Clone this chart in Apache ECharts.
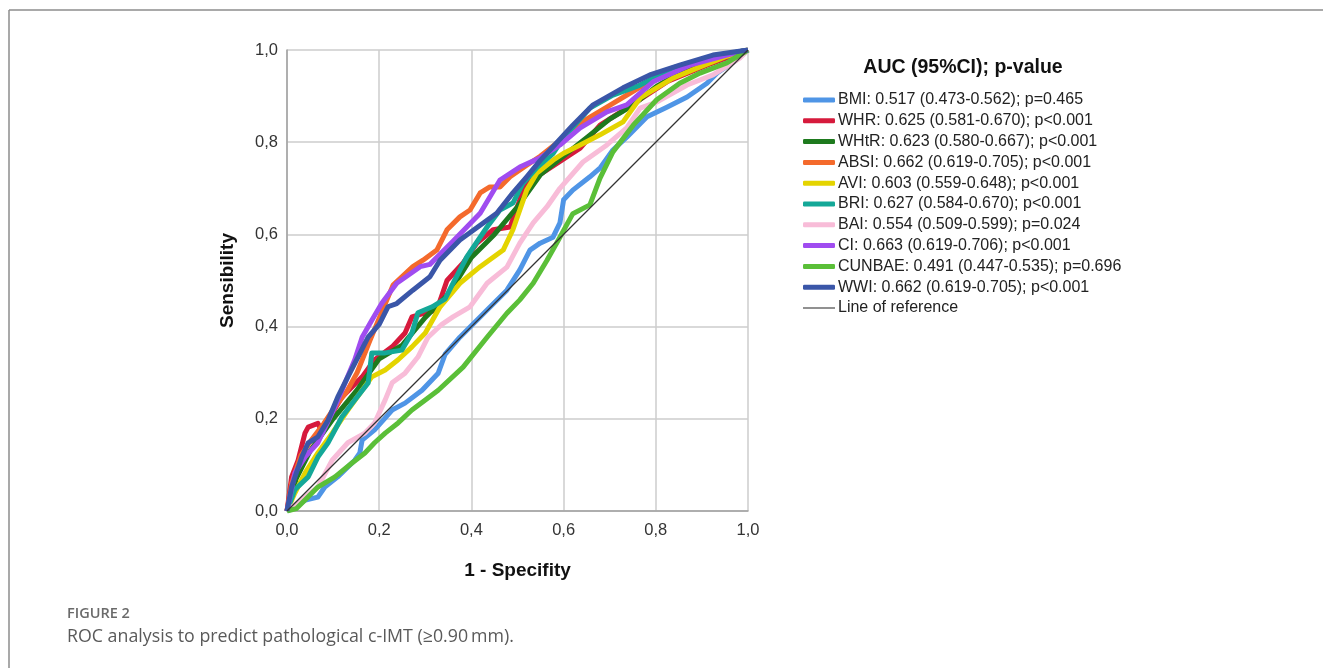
<!DOCTYPE html>
<html>
<head>
<meta charset="utf-8">
<script src="https://cdn.jsdelivr.net/npm/echarts@6/dist/echarts.min.js"></script>
<style>
html,body{margin:0;padding:0;background:#fff;}
#chart{width:1323px;height:668px;}
</style>
</head>
<body>
<div id="chart"></div>
<script>
// ---- data (fpr, tpr) ----
const seriesNames = ['BMI','WHR','WHtR','ABSI','AVI','BRI','BAI','CI','CUNBAE','WWI'];
const legendLabels = [
  'BMI: 0.517 (0.473-0.562); p=0.465',
  'WHR: 0.625 (0.581-0.670); p<0.001',
  'WHtR: 0.623 (0.580-0.667); p<0.001',
  'ABSI: 0.662 (0.619-0.705); p<0.001',
  'AVI: 0.603 (0.559-0.648); p<0.001',
  'BRI: 0.627 (0.584-0.670); p<0.001',
  'BAI: 0.554 (0.509-0.599); p=0.024',
  'CI: 0.663 (0.619-0.706); p<0.001',
  'CUNBAE: 0.491 (0.447-0.535); p=0.696',
  'WWI: 0.662 (0.619-0.705); p<0.001'
];
const refName = 'Line of reference';
const xTickLabels = ['0,0','0,2','0,4','0,6','0,8','1,0'];
const yTickLabels = ['0,0','0,2','0,4','0,6','0,8','1,0'];

const BMI = [[0,0],[0.02,0.01],[0.04,0.024],[0.067,0.03],[0.082,0.052],[0.11,0.074],[0.147,0.11],[0.158,0.126],[0.163,0.154],[0.19,0.176],[0.228,0.219],[0.256,0.234],[0.293,0.262],[0.328,0.299],[0.343,0.34],[0.375,0.377],[0.434,0.436],[0.477,0.479],[0.505,0.523],[0.527,0.566],[0.549,0.581],[0.577,0.594],[0.592,0.625],[0.6,0.675],[0.62,0.696],[0.657,0.725],[0.68,0.745],[0.707,0.783],[0.737,0.811],[0.781,0.855],[0.824,0.876],[0.868,0.898],[0.911,0.928],[0.933,0.95],[0.97,0.975],[1,1]];
const WHR = [[0,0],[0.01,0.074],[0.024,0.11],[0.039,0.169],[0.046,0.182],[0.067,0.19],[0.076,0.172],[0.098,0.212],[0.119,0.247],[0.141,0.269],[0.163,0.291],[0.19,0.328],[0.228,0.356],[0.256,0.386],[0.271,0.421],[0.3,0.43],[0.325,0.436],[0.347,0.5],[0.382,0.538],[0.412,0.581],[0.447,0.61],[0.484,0.616],[0.505,0.675],[0.52,0.711],[0.564,0.74],[0.607,0.768],[0.636,0.787],[0.679,0.837],[0.737,0.874],[0.824,0.931],[0.911,0.967],[0.96,0.985],[1,1]];
const WHtR = [[0,0],[0.02,0.07],[0.05,0.13],[0.1,0.2],[0.15,0.26],[0.2,0.33],[0.25,0.36],[0.3,0.42],[0.35,0.47],[0.4,0.55],[0.45,0.6],[0.5,0.66],[0.55,0.73],[0.6,0.77],[0.65,0.81],[0.7,0.85],[0.75,0.88],[0.8,0.92],[0.85,0.95],[0.9,0.97],[0.95,0.99],[1,1]];
const ABSI = [[0,0],[0.01,0.06],[0.03,0.12],[0.05,0.15],[0.08,0.19],[0.1,0.22],[0.13,0.26],[0.152,0.3],[0.18,0.37],[0.205,0.43],[0.23,0.49],[0.273,0.53],[0.295,0.544],[0.325,0.566],[0.347,0.61],[0.375,0.638],[0.397,0.653],[0.419,0.69],[0.44,0.703],[0.462,0.703],[0.484,0.725],[0.52,0.75],[0.55,0.77],[0.6,0.81],[0.65,0.85],[0.7,0.88],[0.75,0.91],[0.8,0.94],[0.85,0.96],[0.9,0.975],[0.95,0.99],[1,1]];
const AVI = [[0,0],[0.017,0.039],[0.039,0.082],[0.067,0.126],[0.098,0.169],[0.132,0.219],[0.163,0.262],[0.184,0.291],[0.213,0.306],[0.241,0.328],[0.271,0.356],[0.3,0.386],[0.332,0.443],[0.375,0.494],[0.419,0.53],[0.469,0.566],[0.49,0.61],[0.52,0.696],[0.542,0.733],[0.577,0.761],[0.6,0.776],[0.636,0.794],[0.679,0.816],[0.729,0.844],[0.766,0.896],[0.837,0.939],[0.9,0.965],[0.95,0.985],[1,1]];
const BRI = [[0,0],[0.017,0.046],[0.046,0.074],[0.067,0.117],[0.089,0.148],[0.119,0.204],[0.147,0.241],[0.176,0.278],[0.184,0.343],[0.213,0.343],[0.249,0.349],[0.271,0.386],[0.284,0.43],[0.315,0.443],[0.343,0.46],[0.36,0.494],[0.39,0.551],[0.434,0.616],[0.462,0.653],[0.49,0.668],[0.512,0.711],[0.542,0.745],[0.577,0.775],[0.6,0.81],[0.657,0.874],[0.707,0.902],[0.766,0.924],[0.837,0.961],[0.911,0.983],[1,1]];
const BAI = [[0,0],[0.039,0.03],[0.067,0.052],[0.098,0.11],[0.132,0.148],[0.169,0.169],[0.19,0.191],[0.213,0.241],[0.228,0.278],[0.256,0.299],[0.284,0.334],[0.306,0.377],[0.336,0.405],[0.36,0.421],[0.397,0.443],[0.434,0.494],[0.477,0.529],[0.505,0.581],[0.534,0.625],[0.564,0.66],[0.592,0.7],[0.642,0.757],[0.694,0.794],[0.737,0.831],[0.766,0.874],[0.802,0.887],[0.868,0.924],[0.924,0.946],[0.983,0.983],[1,1]];
const CI = [[0,0],[0.017,0.082],[0.039,0.117],[0.067,0.148],[0.104,0.226],[0.126,0.278],[0.147,0.328],[0.163,0.377],[0.184,0.414],[0.206,0.451],[0.238,0.494],[0.289,0.53],[0.31,0.535],[0.36,0.585],[0.419,0.646],[0.462,0.718],[0.505,0.746],[0.549,0.766],[0.592,0.794],[0.636,0.831],[0.694,0.866],[0.737,0.881],[0.794,0.931],[0.874,0.967],[0.954,0.989],[1,1]];
const CUNBAE = [[0,0],[0.02,0.005],[0.039,0.024],[0.067,0.052],[0.104,0.074],[0.141,0.104],[0.169,0.126],[0.19,0.148],[0.213,0.169],[0.241,0.191],[0.271,0.219],[0.3,0.241],[0.328,0.262],[0.382,0.312],[0.434,0.377],[0.477,0.429],[0.505,0.458],[0.534,0.494],[0.564,0.544],[0.592,0.594],[0.62,0.645],[0.657,0.664],[0.679,0.722],[0.707,0.779],[0.751,0.837],[0.802,0.892],[0.852,0.928],[0.896,0.95],[0.954,0.972],[1,1]];
const WWI = [[0,0],[0.01,0.052],[0.032,0.117],[0.046,0.148],[0.067,0.161],[0.089,0.197],[0.11,0.247],[0.132,0.291],[0.154,0.334],[0.176,0.377],[0.2,0.405],[0.219,0.443],[0.238,0.45],[0.273,0.479],[0.31,0.508],[0.332,0.544],[0.375,0.588],[0.419,0.62],[0.455,0.646],[0.49,0.69],[0.52,0.725],[0.549,0.76],[0.577,0.79],[0.62,0.837],[0.664,0.881],[0.729,0.918],[0.787,0.946],[0.852,0.967],[0.924,0.989],[1,1]];
const REF = [[0,0],[1,1]];

const seriesData = [BMI, WHR, WHtR, ABSI, AVI, BRI, BAI, CI, CUNBAE, WWI];
const colors = ['#4f95e6','#d61a3c','#1e7a1e','#f46a2c','#e4d400','#14a898','#f8bcd8','#a04cf0','#5abf38','#3a56a8'];

const chart = echarts.init(document.getElementById('chart'), null, {renderer:'canvas'});
const font = '"Liberation Sans", Arial, sans-serif';

const series = seriesNames.map((n, i) => ({
  name: n, type: 'line', data: seriesData[i], showSymbol: false, symbol: 'none',
  lineStyle: {width: 5, color: colors[i], join: 'round'}, itemStyle: {color: colors[i]},
  z: 2 + i, animation: false
}));
series.push({
  name: refName, type: 'line', data: REF, showSymbol: false, symbol: 'none',
  lineStyle: {width: 1.3, color: '#333'}, itemStyle: {color: '#555'}, z: 20, animation: false
});

const legendData = seriesNames.map(n => ({name: n, icon: 'roundRect'}));
legendData.push({name: refName, icon: 'path://M0,0 H32 V1.3 H0 Z'});

chart.setOption({
  backgroundColor: '#fff',
  animation: false,
  grid: {left: 287, top: 50, width: 461, height: 461, containLabel: false},
  xAxis: {
    type: 'value', min: 0, max: 1, interval: 0.2,
    name: '1 - Specifity', nameLocation: 'middle', nameGap: 50,
    nameTextStyle: {fontFamily: font, fontWeight: 'bold', fontSize: 19, color: '#111'},
    axisLine: {show: true, lineStyle: {color: '#a0a0a0', width: 1.5}},
    axisTick: {show: false},
    axisLabel: {margin: 11, fontFamily: font, fontSize: 16.5, color: '#333',
      formatter: v => xTickLabels[Math.round(v / 0.2)]},
    splitLine: {show: true, lineStyle: {color: '#cdcdcd', width: 1.5}}
  },
  yAxis: {
    type: 'value', min: 0, max: 1, interval: 0.2,
    name: 'Sensibility', nameLocation: 'middle', nameGap: 50,
    nameTextStyle: {fontFamily: font, fontWeight: 'bold', fontSize: 19, color: '#111'},
    axisLine: {show: true, lineStyle: {color: '#a0a0a0', width: 1.5}},
    axisTick: {show: false},
    axisLabel: {margin: 9, fontFamily: font, fontSize: 16.5, color: '#333',
      formatter: v => yTickLabels[Math.round(v / 0.2)]},
    splitLine: {show: true, lineStyle: {color: '#cdcdcd', width: 1.5}}
  },
  legend: {
    orient: 'vertical', left: 803, top: 92, padding: 0, itemWidth: 32, itemHeight: 5, itemGap: 4.8,
    symbolKeepAspect: true, selectedMode: false,
    data: legendData,
    formatter: n => { const i = seriesNames.indexOf(n); return i >= 0 ? legendLabels[i] : n; },
    textStyle: {fontFamily: font, fontSize: 16, color: '#222', lineHeight: 14, padding: [0,0,0,-2]}
  },
  graphic: [
    {type: 'line', shape: {x1: 9, y1: 10, x2: 1323, y2: 10}, style: {stroke: '#8c8c8c', lineWidth: 1.5}},
    {type: 'line', shape: {x1: 9, y1: 10, x2: 9, y2: 668}, style: {stroke: '#8c8c8c', lineWidth: 1.5}},
    {type: 'text', x: 963, y: 68, style: {text: 'AUC (95%CI); p-value', textAlign: 'center', textVerticalAlign: 'middle',
      font: 'bold 19.5px "Liberation Sans", Arial, sans-serif', fill: '#111'}},
    {type: 'text', x: 67, y: 614, style: {text: 'FIGURE 2', textAlign: 'left', textVerticalAlign: 'middle',
      font: '600 14.5px "Open Sans", "Noto Sans", sans-serif', fill: '#6a6a6a'}},
    {type: 'text', x: 67, y: 637, style: {text: 'ROC analysis to predict pathological c-IMT (\u22650.90\u2009mm).', textAlign: 'left', textVerticalAlign: 'middle',
      font: '17.8px "Open Sans", "Noto Sans", sans-serif', fill: '#5a5a5a'}}
  ],
  series: series
});
</script>
</body>
</html>
